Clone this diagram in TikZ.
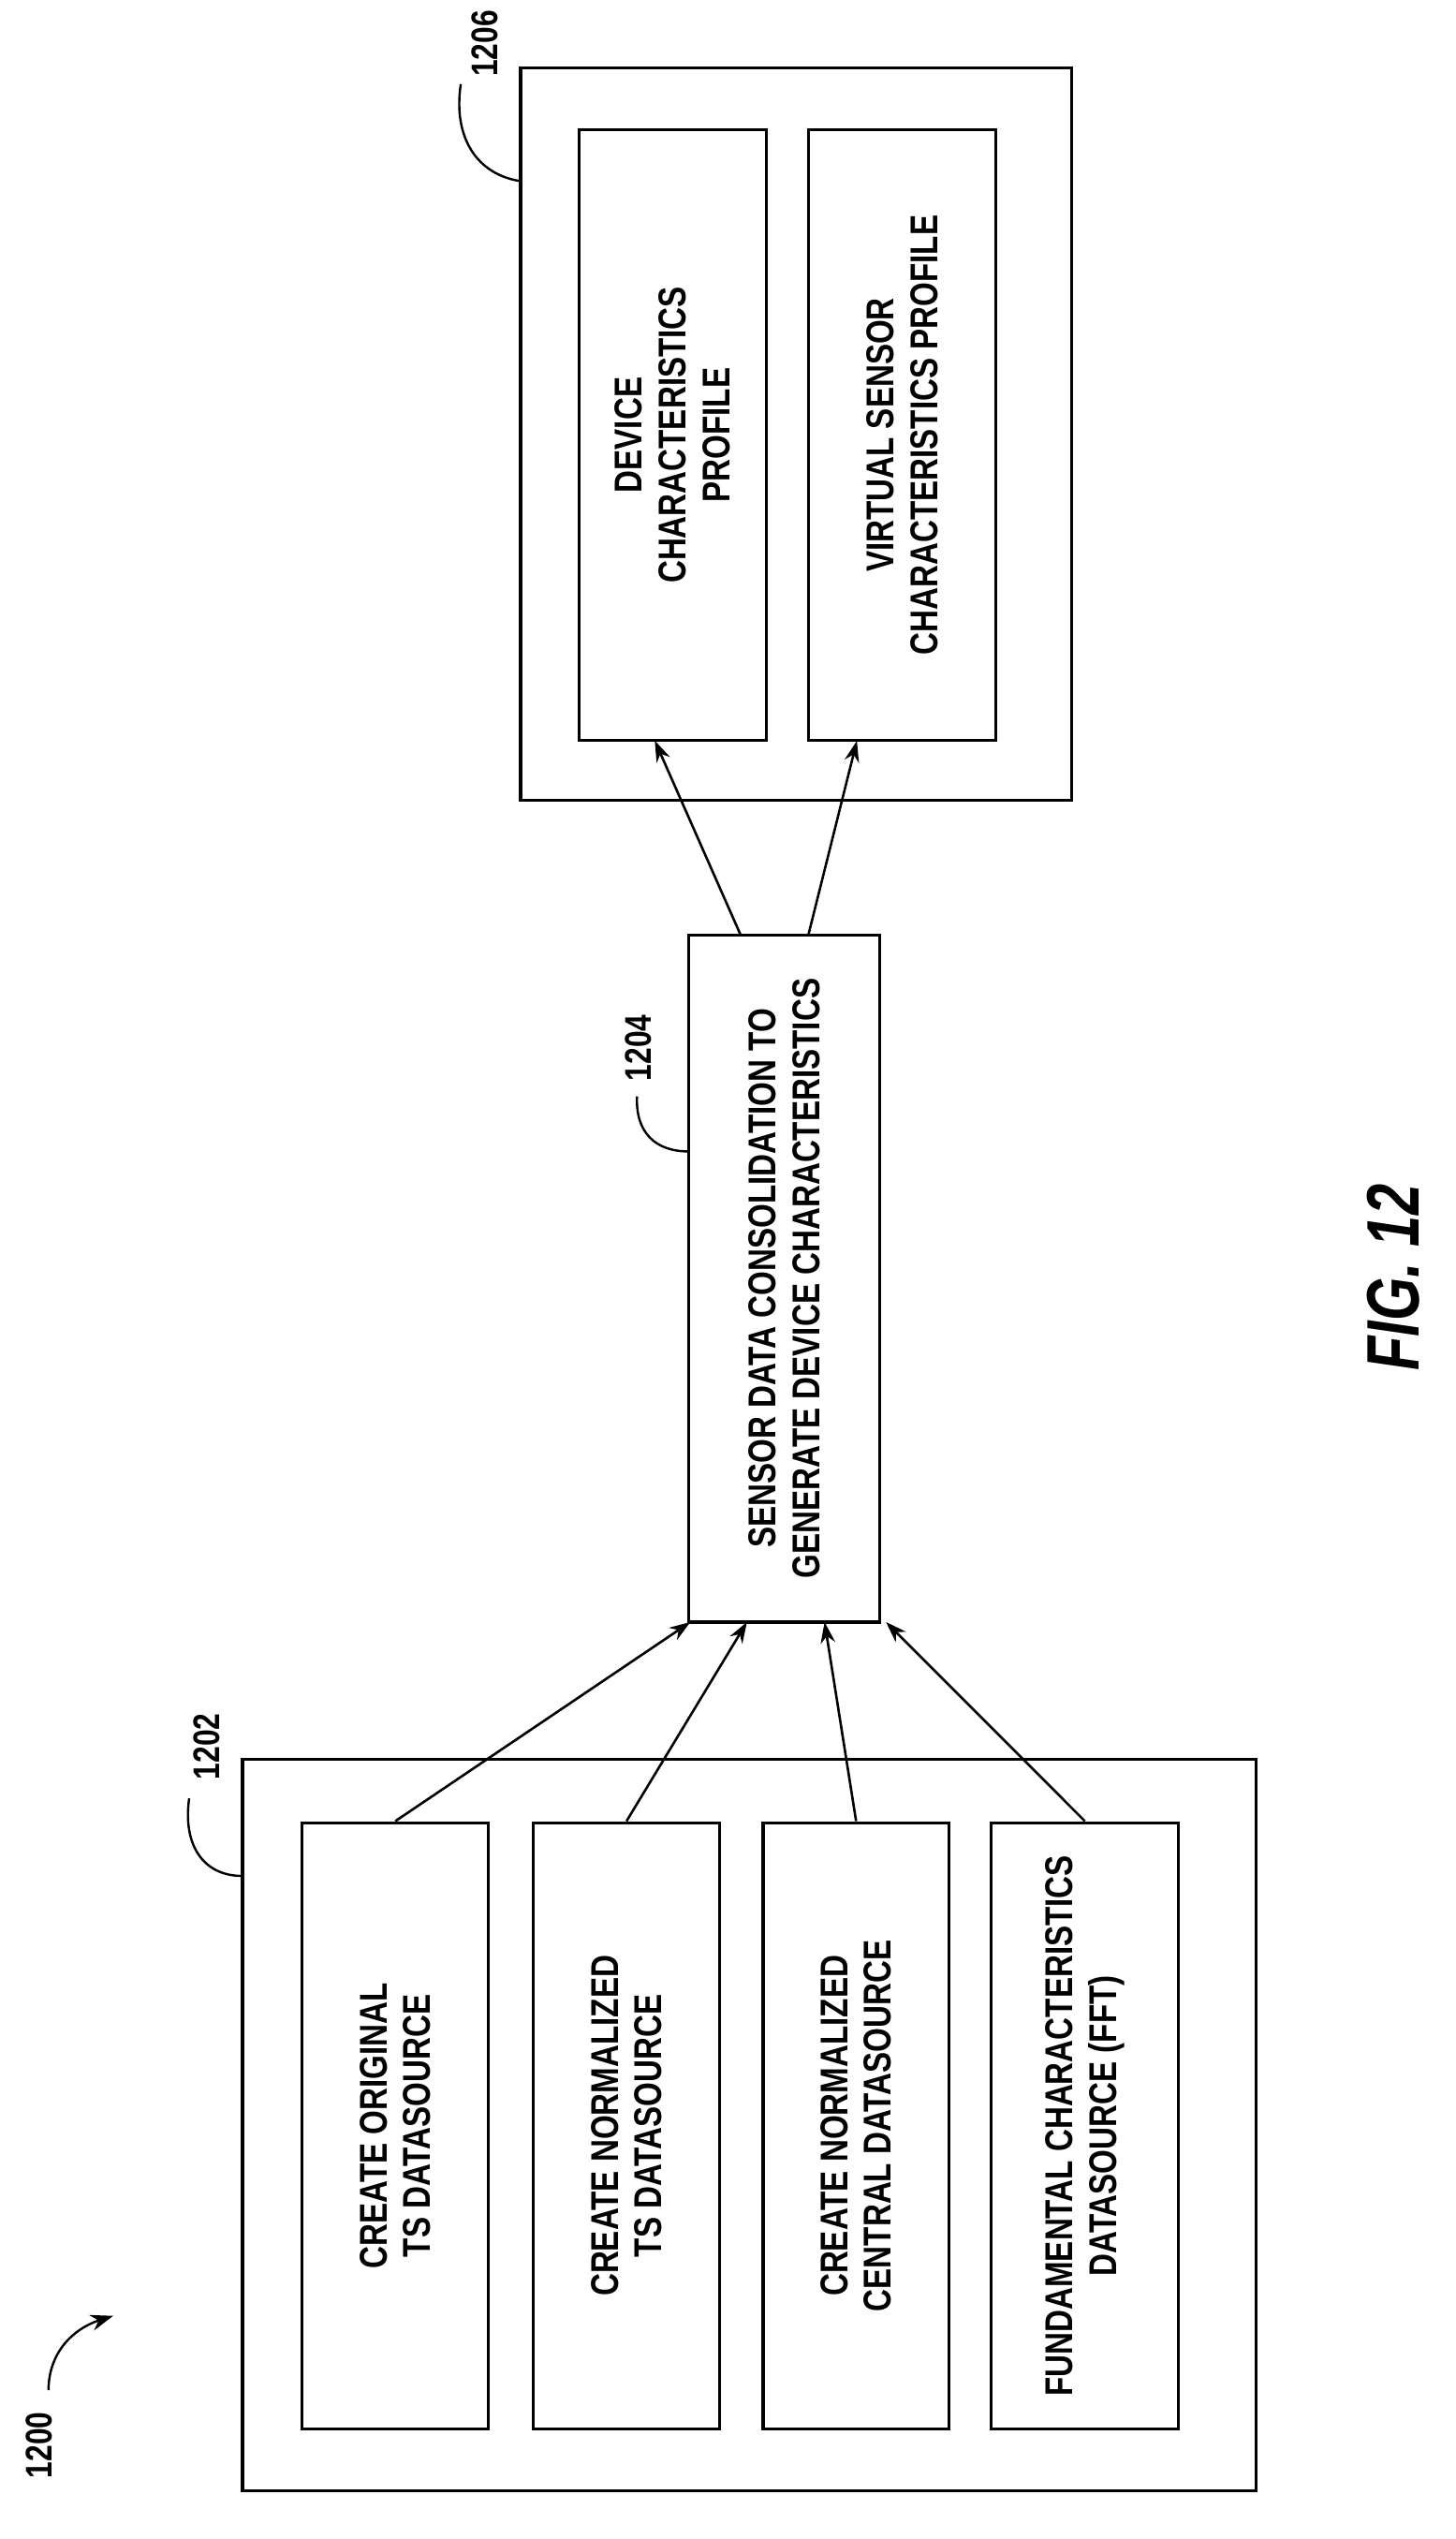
\documentclass[tikz,border=0pt]{standalone}
\usepackage{fontspec}
\setmainfont{Liberation Sans Bold}[FakeStretch=0.8]
\newfontfamily\figfont{Liberation Sans Bold Italic}[FakeStretch=0.75]
\usetikzlibrary{arrows.meta}
\begin{document}
\begin{tikzpicture}[x=1pt,y=-1pt,
  box/.style={draw,line width=1.8pt},
  txt/.style={rotate=90,align=center,font=\fontsize{24}{27}\selectfont},
  lab/.style={rotate=90,font=\fontsize{23}{25}\selectfont},
  arr/.style={line width=1.5pt,-{Stealth[length=13pt,width=9pt]}},
  lead/.style={line width=1.4pt}]
\useasboundingbox (0,0) rectangle (900,1570);
% 1206
\node[box,minimum width=341pt,minimum height=453pt] (o1206) at (492.5,268.5) {};
\node[box,minimum height=116pt,minimum width=378pt,txt] (dev) at (416,269) {DEVICE\\CHARACTERISTICS\\PROFILE};
\node[box,minimum height=116pt,minimum width=378pt,txt] (vir) at (558,269) {VIRTUAL SENSOR\\CHARACTERISTICS PROFILE};
\node[lab] (l1206) at (300,27) {1206};
\draw[lead] (322,112) .. controls (295,108) and (280,85) .. (285,52);
% 1204
\node[box,minimum height=118pt,minimum width=425pt,txt] (c) at (485,790.5) {SENSOR DATA CONSOLIDATION TO\\GENERATE DEVICE CHARACTERISTICS};
\node[lab] (l1204) at (395,648) {1204};
\draw[lead] (426,712) .. controls (405,712) and (393,700) .. (394,678);
% 1202
\node[box,minimum width=627pt,minimum height=452pt] (o1202) at (463.5,1314) {};
\node[box,minimum height=115pt,minimum width=375pt,txt] (a) at (244.5,1314.5) {CREATE ORIGINAL\\TS DATASOURCE};
\node[box,minimum height=115pt,minimum width=375pt,txt] (b) at (387.5,1314.5) {CREATE NORMALIZED\\TS DATASOURCE};
\node[box,minimum height=115pt,minimum width=375pt,txt] (d) at (529.5,1314.5) {CREATE NORMALIZED\\CENTRAL DATASOURCE};
\node[box,minimum height=116pt,minimum width=375pt,txt] (e) at (671,1314.5) {FUNDAMENTAL CHARACTERISTICS\\DATASOURCE (FFT)};
\node[lab] (l1202) at (128,1080) {1202};
\draw[lead] (150,1160) .. controls (125,1160) and (113,1140) .. (117,1112);
% 1200
\node[lab] (l1200) at (24,1512) {1200};
\draw[lead,-{Stealth[length=14pt,width=10pt]}] (30,1478) .. controls (30,1455) and (45,1440) .. (70,1432);
% arrows
\draw[arr] (a.east) -- (427,1003);
\draw[arr] (b.east) -- (462,1003);
\draw[arr] (d.east) -- (510,1003);
\draw[arr] (e.east) -- (548,1003);
\draw[arr] (458,578) -- (405,458);
\draw[arr] (500,578) -- (530,458);
% fig
\node[rotate=90,font=\figfont\fontsize{46}{50}\selectfont] (fig) at (862,790) {FIG. 12};
\end{tikzpicture}
\end{document}
